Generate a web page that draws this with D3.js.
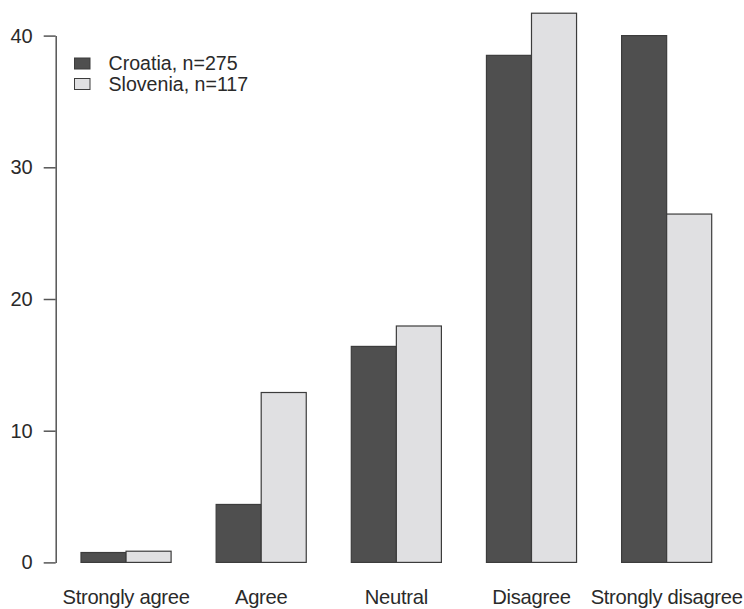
<!DOCTYPE html>
<html>
<head>
<meta charset="utf-8">
<script src="https://cdn.jsdelivr.net/npm/d3@7"></script>
<style>
  html, body { margin: 0; padding: 0; background: #fff; }
  svg { display: block; }
  text { font-family: "Liberation Sans", Arial, sans-serif; fill: #2a2a2a; }
</style>
</head>
<body>
<svg id="chart" width="744" height="609"></svg>
<script>
const categories = ["Strongly agree", "Agree", "Neutral", "Disagree", "Strongly disagree"];
const croatia = [0.75, 4.4, 16.4, 38.5, 40.0];
const slovenia = [0.85, 12.9, 17.95, 41.7, 26.45];
const seriesNames = ["Croatia, n=275", "Slovenia, n=117"];
const seriesColors = ["#4f4f4f", "#e0e0e2"];
const yTicks = [0, 10, 20, 30, 40];

const series = [croatia, slovenia];
const svg = d3.select("#chart");

const y = d3.scaleLinear().domain([0, 40]).range([562.4, 35.6]);
// R barplot style units: each bar 1 unit wide, 1 unit gap before each group
const x = d3.scaleLinear().domain([0, 15]).range([35.95, 711.7]);

// bars
categories.forEach((c, g) => {
  series.forEach((vals, s) => {
    const u0 = 1 + 3 * g + s;
    svg.append("rect")
      .attr("x", x(u0))
      .attr("y", y(vals[g]))
      .attr("width", x(u0 + 1) - x(u0))
      .attr("height", y(0) - y(vals[g]))
      .attr("fill", seriesColors[s])
      .attr("stroke", "#3c3c3c")
      .attr("stroke-width", 1.2);
  });
  svg.append("text")
    .attr("x", x(2 + 3 * g))
    .attr("y", 604)
    .attr("text-anchor", "middle")
    .attr("font-size", 20.2)
    .attr("letter-spacing", "-0.3px")
    .text(c);
});

// y axis
const axis = d3.axisLeft(y).tickValues(yTicks).tickSize(12).tickSizeOuter(0).tickPadding(11);
const ag = svg.append("g").attr("transform", "translate(55.7,0)").call(axis);
ag.select(".domain").attr("stroke", "#555").attr("stroke-width", 1.5);
ag.selectAll(".tick line").attr("stroke", "#555").attr("stroke-width", 1.5);
ag.selectAll(".tick text")
  .attr("font-size", 20)
  .attr("font-family", "Liberation Sans, Arial, sans-serif")
  .attr("fill", "#2a2a2a");

// legend
const leg = svg.append("g");
seriesNames.forEach((n, i) => {
  const cy = 63.5 + i * 20.5;
  leg.append("rect")
    .attr("x", 74.5).attr("y", cy - 5.5)
    .attr("width", 15.5).attr("height", 11)
    .attr("fill", seriesColors[i])
    .attr("stroke", "#3c3c3c").attr("stroke-width", 1);
  leg.append("text")
    .attr("x", 108.5).attr("y", cy)
    .attr("dy", "0.35em")
    .attr("font-size", 19.6)
    .text(n);
});
</script>
</body>
</html>
